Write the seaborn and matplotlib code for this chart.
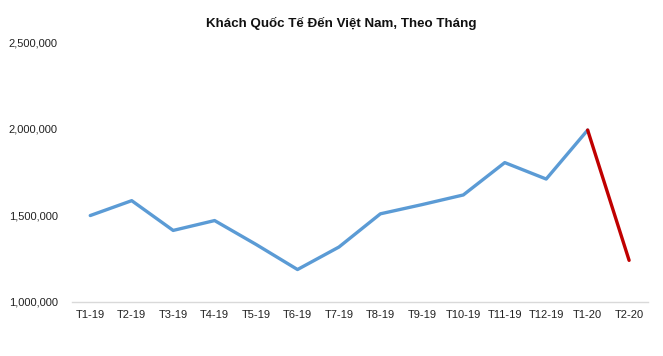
import matplotlib
matplotlib.use("Agg")
import matplotlib.pyplot as plt
import seaborn as sns
import pandas as pd
import numpy as np
from matplotlib.ticker import FuncFormatter

months = ["T1-19", "T2-19", "T3-19", "T4-19", "T5-19", "T6-19", "T7-19",
          "T8-19", "T9-19", "T10-19", "T11-19", "T12-19", "T1-20", "T2-20"]
visitors = [1497000, 1583000, 1411000, 1468000, 1330000, 1185000, 1315000,
            1507000, 1560000, 1616000, 1803000, 1708000, 1991000, 1238000]
title = "Khách Quốc Tế Đến Việt Nam, Theo Tháng"

sns.set_theme(style="white")
plt.rcParams['font.family'] = ['Liberation Sans', 'DejaVu Sans']

df = pd.DataFrame({"pos": np.arange(len(months)), "month": months, "visitors": visitors})
blue_df = df.iloc[:-1]
red_df = df.iloc[-2:]

fig = plt.figure(figsize=(6.63, 3.56), dpi=100)
ax = fig.add_axes([0.108, 0.153, 0.869, 0.729])

sns.lineplot(data=blue_df, x="pos", y="visitors", ax=ax, color="#5B9BD5", linewidth=2.4)
sns.lineplot(data=red_df, x="pos", y="visitors", ax=ax, color="#C00000", linewidth=2.4)

ax.set_xlim(-0.45, len(months) - 0.55)
ax.set_ylim(1000000, 2500000)
ax.set_yticks([1000000, 1500000, 2000000, 2500000])
ax.yaxis.set_major_formatter(FuncFormatter(lambda v, p: f"{int(v):,}"))
ax.set_xticks(df["pos"])
ax.set_xticklabels(months)
ax.tick_params(axis="both", labelsize=8, colors="#222222", length=0, pad=6)
ax.tick_params(axis="y", pad=10)
ax.set_xlabel("")
ax.set_ylabel("")
for s in ["top", "right", "left"]:
    ax.spines[s].set_visible(False)
ax.spines["bottom"].set_color("#d9d9d9")
ax.spines["bottom"].set_linewidth(1)
ax.grid(False)

fig.text(0.515, 0.935, title, ha="center", va="center", fontsize=9.6,
         fontweight="bold", color="#111111")

fig.savefig("out.png", dpi=100, facecolor="white")
